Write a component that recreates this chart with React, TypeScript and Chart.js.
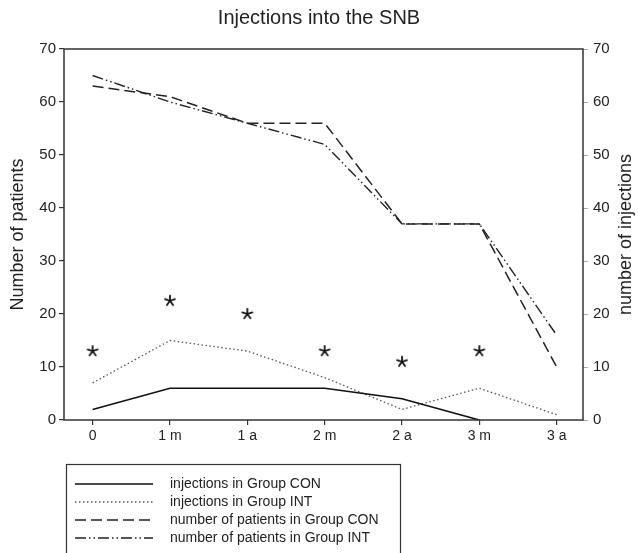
import React, { useEffect, useRef } from "react";
import { Chart, registerables } from "chart.js";

Chart.register(...registerables);

const TITLE = "Injections into the SNB";
const X_LABELS = ["0", "1 m", "1 a", "2 m", "2 a", "3 m", "3 a"];
const X_POS = [0, 1, 2, 3, 4, 5, 6];
const INJ_CON = [2, 6, 6, 6, 4, 0];
const INJ_INT = [7, 15, 13, 8, 2, 6, 1];
const PAT_CON = [63, 61, 56, 56, 37, 37, 10];
const PAT_INT = [65, 60, 56, 52, 37, 37, 16];
const STAR_VALUES = [13, 22.5, 20, 13, 11, 13];
const Y_TICKS = [0, 10, 20, 30, 40, 50, 60, 70];
const LEFT_TITLE = "Number of patients";
const RIGHT_TITLE = "number of injections";
const SERIES_LABELS = [
  "injections in Group CON",
  "injections in Group INT",
  "number of patients in Group CON",
  "number of patients in Group INT",
];

const FONT = "'Liberation Sans', Arial, Helvetica, sans-serif";
const TEXT = "#222";
const AXIS = "#333";

const STYLES = [
  { color: "#111", width: 1.6, dash: [] as number[] },
  { color: "#555", width: 1.3, dash: [1.5, 2.5] },
  { color: "#222", width: 1.5, dash: [11, 5] },
  { color: "#222", width: 1.4, dash: [11, 3, 1.5, 3, 1.5, 3] },
];

const toPoints = (vals: number[]) => vals.map((v, i) => ({ x: X_POS[i], y: v }));

function makeAsterisk(): HTMLCanvasElement {
  const c = document.createElement("canvas");
  c.width = 14;
  c.height = 14;
  const g = c.getContext("2d")!;
  g.strokeStyle = "#111";
  g.lineWidth = 1.8;
  g.lineCap = "round";
  for (let k = 0; k < 5; k++) {
    const a = -Math.PI / 2 + (k * 2 * Math.PI) / 5;
    g.beginPath();
    g.moveTo(7, 7);
    g.lineTo(7 + 5.2 * Math.cos(a), 7 + 5.2 * Math.sin(a));
    g.stroke();
  }
  return c;
}

export default function App() {
  const ref = useRef<HTMLCanvasElement | null>(null);

  useEffect(() => {
    if (!ref.current) return;
    const star = makeAsterisk();

    const framePlugin = {
      id: "frame",
      afterDraw(chart: any) {
        const { ctx, chartArea: a } = chart;
        ctx.save();
        ctx.strokeStyle = AXIS;
        ctx.lineWidth = 1.5;
        ctx.strokeRect(a.left, a.top, a.right - a.left, a.bottom - a.top);
        ctx.restore();
      },
    };

    const rightTitlePlugin = {
      id: "rightTitle",
      afterDraw(chart: any) {
        const { ctx, chartArea: a } = chart;
        ctx.save();
        ctx.translate(626, (a.top + a.bottom) / 2);
        ctx.rotate(-Math.PI / 2);
        ctx.font = `18px ${FONT}`;
        ctx.fillStyle = TEXT;
        ctx.textAlign = "center";
        ctx.textBaseline = "middle";
        ctx.fillText(RIGHT_TITLE, 0, 0);
        ctx.restore();
      },
    };

    const legendPlugin = {
      id: "boxLegend",
      afterDraw(chart: any) {
        const { ctx } = chart;
        ctx.save();
        ctx.strokeStyle = AXIS;
        ctx.lineWidth = 1.2;
        ctx.strokeRect(66.5, 464.5, 334, 120);
        const rows = [484, 502, 520, 538];
        ctx.font = `14px ${FONT}`;
        ctx.fillStyle = TEXT;
        ctx.textBaseline = "middle";
        ctx.textAlign = "left";
        SERIES_LABELS.forEach((label, i) => {
          const s = STYLES[i];
          ctx.beginPath();
          ctx.strokeStyle = s.color;
          ctx.lineWidth = s.width;
          ctx.setLineDash(s.dash);
          ctx.moveTo(75, rows[i]);
          ctx.lineTo(153, rows[i]);
          ctx.stroke();
          ctx.setLineDash([]);
          ctx.fillText(label, 170, rows[i]);
        });
        ctx.restore();
      },
    };

    const lineDs = (i: number, data: number[], axis: string) => ({
      label: SERIES_LABELS[i],
      data: toPoints(data),
      yAxisID: axis,
      borderColor: STYLES[i].color,
      borderWidth: STYLES[i].width,
      borderDash: STYLES[i].dash,
      pointRadius: 0,
      fill: false,
      tension: 0,
    });

    const chart = new Chart(ref.current, {
      type: "line",
      data: {
        datasets: [
          lineDs(0, INJ_CON, "y2"),
          lineDs(1, INJ_INT, "y2"),
          lineDs(2, PAT_CON, "y"),
          lineDs(3, PAT_INT, "y"),
          {
            label: "significance",
            data: toPoints(STAR_VALUES),
            yAxisID: "y",
            showLine: false,
            pointStyle: star as any,
            pointRadius: 7,
            borderWidth: 0,
          } as any,
        ],
      },
      options: {
        responsive: false,
        animation: false,
        layout: { padding: { left: 0, right: 0, top: 0, bottom: 103 } },
        plugins: {
          legend: { display: false },
          tooltip: { enabled: false },
          title: {
            display: true,
            text: TITLE,
            color: TEXT,
            font: { family: FONT, size: 20, weight: "normal" },
            padding: { top: 6, bottom: 19 },
          },
        },
        scales: {
          x: {
            type: "linear",
            position: "bottom",
            min: -0.37,
            max: 6.34,
            afterBuildTicks: (s: any) => {
              s.ticks = X_POS.map((v) => ({ value: v }));
            },
            afterFit: (s: any) => {
              s.height = 30;
            },
            border: { display: false },
            grid: {
              drawOnChartArea: false,
              drawTicks: true,
              tickLength: 5,
              color: AXIS,
              lineWidth: 1.2,
            },
            ticks: {
              autoSkip: false,
              maxRotation: 0,
              padding: 3,
              color: TEXT,
              font: { family: FONT, size: 14 },
              callback: (v: any) => X_LABELS[X_POS.indexOf(Number(v))] ?? "",
            },
          },
          y: {
            type: "linear",
            position: "left",
            min: 0,
            max: 70,
            afterBuildTicks: (s: any) => {
              s.ticks = Y_TICKS.map((v) => ({ value: v }));
            },
            afterFit: (s: any) => {
              s.width = 64;
            },
            border: { display: false },
            grid: {
              drawOnChartArea: false,
              drawTicks: true,
              tickLength: 5,
              color: AXIS,
              lineWidth: 1.2,
            },
            ticks: {
              padding: 3,
              color: TEXT,
              font: { family: FONT, size: 15 },
            },
            title: {
              display: true,
              text: LEFT_TITLE,
              color: TEXT,
              font: { family: FONT, size: 18 },
              padding: { top: 7, bottom: 0 },
            },
          },
          y2: {
            type: "linear",
            position: "right",
            min: 0,
            max: 70,
            afterBuildTicks: (s: any) => {
              s.ticks = Y_TICKS.map((v) => ({ value: v }));
            },
            afterFit: (s: any) => {
              s.width = 55;
            },
            border: { display: false },
            grid: {
              drawOnChartArea: false,
              drawTicks: true,
              tickLength: 5,
              color: "#aaa",
              lineWidth: 1,
            },
            ticks: {
              padding: 5,
              color: TEXT,
              font: { family: FONT, size: 15 },
            },
          },
        },
      },
      plugins: [framePlugin, rightTitlePlugin, legendPlugin],
    } as any);

    return () => chart.destroy();
  }, []);

  return (
    <div style={{ position: "fixed", left: 0, top: 0, width: 638, height: 553, background: "#fff" }}>
      <canvas ref={ref} width={638} height={553} style={{ display: "block" }} />
    </div>
  );
}
